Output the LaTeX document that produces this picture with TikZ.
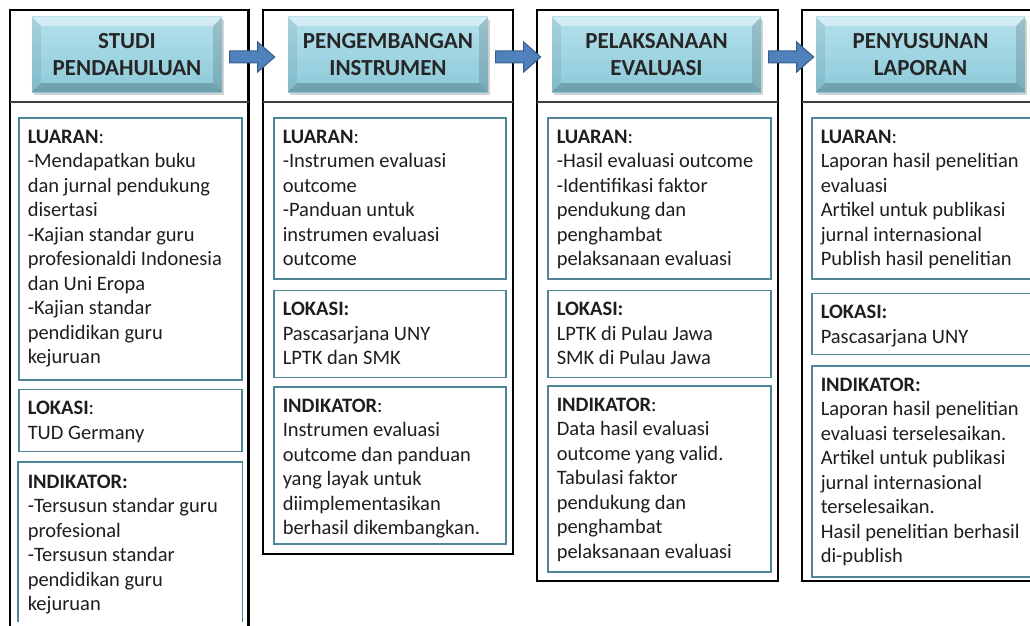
\documentclass[tikz,border=0pt]{standalone}
\usepackage{fontspec}
\setmainfont{Carlito}
\usetikzlibrary{positioning, calc, shadows}

\definecolor{hdrtop}{HTML}{B4E1EC}
\definecolor{hdrbot}{HTML}{8CC9D9}
\definecolor{boxteal}{HTML}{4F8596}
\definecolor{arrowblue}{HTML}{4F81BD}
\definecolor{arrowdark}{HTML}{385D8A}
\definecolor{txtgray}{HTML}{1E1E1E}

\newcommand{\boxtext}[3]{\parbox[c][#1][t]{#2}{\raggedright #3}}

\begin{document}
\begin{tikzpicture}[x=1pt, y=-1pt,
        column/.style={draw=black, line width=2.2pt},
        divider/.style={draw=black!75, line width=1.4pt},
        header/.style={rectangle, minimum height=75pt, top color=hdrtop, bottom color=hdrbot, align=center, inner sep=0pt, font=\fontsize{23}{27}\selectfont\bfseries, text=black!85, drop shadow={shadow xshift=2pt, shadow yshift=-3pt, opacity=0.35}},
        infobox/.style={draw=boxteal, line width=1.5pt, inner xsep=9pt, inner ysep=12pt, font=\fontsize{20.5}{24.5}\selectfont, text=txtgray},
        boxline/.style={draw=boxteal, line width=1.5pt},
        blockarrow/.style={fill=arrowblue, draw=arrowdark, line width=1pt, line join=miter}
    ]
        \useasboundingbox (0,0) rectangle (1030,626);
        \clip (0,0) rectangle (1030,626);

        % columns
        \foreach \l/\r/\b in {10/248.5/650, 263/513/554, 537/778/581, 802/1050/581}{
            \draw[column] (\l,10) rectangle (\r,\b);
            \draw[divider] (\l,102) -- (\r,102);
        }

        % headers
        \node[header, minimum width=190pt] (studi) at (127,54.5) {STUDI\\PENDAHULUAN};
        \node[header, minimum width=200pt] (pengembangan) at (388,54.5) {PENGEMBANGAN\\INSTRUMEN};
        \node[header, minimum width=209pt] (pelaksanaan) at (656.5,54.5) {PELAKSANAAN\\EVALUASI};
        \node[header, minimum width=209pt] (penyusunan) at (920.5,54.5) {PENYUSUNAN\\LAPORAN};

        \foreach \h in {studi, pengembangan, pelaksanaan, penyusunan}{
            \fill[white, opacity=.45] (\h.north west) -- (\h.north east) -- ([xshift=-9pt,yshift=-9pt]\h.north east) -- ([xshift=9pt,yshift=-9pt]\h.north west) -- cycle;
            \fill[black, opacity=.07] (\h.north west) -- ([xshift=9pt,yshift=-9pt]\h.north west) -- ([xshift=9pt,yshift=9pt]\h.south west) -- (\h.south west) -- cycle;
            \fill[black, opacity=.14] (\h.north east) -- ([xshift=-9pt,yshift=-9pt]\h.north east) -- ([xshift=-9pt,yshift=9pt]\h.south east) -- (\h.south east) -- cycle;
            \fill[black, opacity=.2] (\h.south west) -- ([xshift=9pt,yshift=9pt]\h.south west) -- ([xshift=-9pt,yshift=9pt]\h.south east) -- (\h.south east) -- cycle;
        }

        % arrows
        \foreach \a/\b in {studi/pengembangan, pengembangan/pelaksanaan, pelaksanaan/penyusunan}{
            \filldraw[blockarrow] let \p1=(\a.east), \p2=(\b.west) in
                ({\x1+7.5pt},{\y1+3.5pt}) -- ({\x1+35.5pt},{\y1+3.5pt}) -- ({\x1+35.5pt},{\y1+12.5pt})
                -- ({\x1+52.5pt},{\y1-2.5pt}) -- ({\x1+35.5pt},{\y1-17.5pt}) -- ({\x1+35.5pt},{\y1-8.5pt})
                -- ({\x1+7.5pt},{\y1-8.5pt}) -- cycle;
        }

        % studi pendahuluan
        \node[infobox, anchor=north west] (studiluaran) at (18,117) {\boxtext{238pt}{205pt}{\textbf{LUARAN}:\\-Mendapatkan buku\\dan jurnal pendukung\\disertasi\\-Kajian standar guru\\profesionaldi Indonesia\\dan Uni Eropa\\-Kajian standar\\pendidikan guru\\kejuruan}};
        \node[infobox, below=8pt of studiluaran] (studilokasi) {\boxtext{38pt}{205pt}{\textbf{LOKASI}:\\TUD Germany}};
        \node[infobox, draw=none, below=10pt of studilokasi] (studiindikator) {\boxtext{134pt}{205pt}{\textbf{INDIKATOR:}\\-Tersusun standar guru\\profesional\\-Tersusun standar\\pendidikan guru\\kejuruan}};
        \draw[boxline] (studiindikator.south west) |- (studiindikator.north east) -- (studiindikator.south east);

        % pengembangan instrumen
        \node[infobox, anchor=north west] (pengluaran) at (273,117) {\boxtext{137pt}{214pt}{\textbf{LUARAN}:\\-Instrumen evaluasi\\outcome\\-Panduan untuk\\instrumen evaluasi\\outcome}};
        \node[infobox, below=10pt of pengluaran] (penglokasi) {\boxtext{63pt}{214pt}{\textbf{LOKASI:}\\Pascasarjana UNY\\LPTK dan SMK}};
        \node[infobox, below=8pt of penglokasi] (pengindikator) {\boxtext{133pt}{214pt}{\textbf{INDIKATOR}:\\Instrumen evaluasi\\outcome dan panduan\\yang layak untuk\\diimplementasikan\\berhasil dikembangkan.}};

        % pelaksanaan evaluasi
        \node[infobox, anchor=north west] (pelluaran) at (547,117) {\boxtext{137pt}{205pt}{\textbf{LUARAN}:\\-Hasil evaluasi outcome\\-Identifikasi faktor\\pendukung dan\\penghambat\\pelaksanaan evaluasi}};
        \node[infobox, below=10pt of pelluaran] (pellokasi) {\boxtext{63pt}{205pt}{\textbf{LOKASI:}\\LPTK di Pulau Jawa\\SMK di Pulau Jawa}};
        \node[infobox, below=7pt of pellokasi] (pelindikator) {\boxtext{162pt}{205pt}{\textbf{INDIKATOR}:\\Data hasil evaluasi\\outcome yang valid.\\Tabulasi faktor\\pendukung dan\\penghambat\\pelaksanaan evaluasi}};

        % penyusunan laporan
        \node[infobox, anchor=north west] (penyluaran) at (811,117) {\boxtext{137pt}{205pt}{\textbf{LUARAN}:\\Laporan hasil penelitian\\evaluasi\\Artikel untuk publikasi\\jurnal internasional\\Publish hasil penelitian}};
        \node[infobox, below=13pt of penyluaran] (penylokasi) {\boxtext{37pt}{205pt}{\textbf{LOKASI:}\\Pascasarjana UNY}};
        \node[infobox, below=10pt of penylokasi] (penyindikator) {\boxtext{187pt}{205pt}{\textbf{INDIKATOR:}\\Laporan hasil penelitian\\evaluasi terselesaikan.\\Artikel untuk publikasi\\jurnal internasional\\terselesaikan.\\Hasil penelitian berhasil\\di-publish}};

    \end{tikzpicture}
\end{document}
